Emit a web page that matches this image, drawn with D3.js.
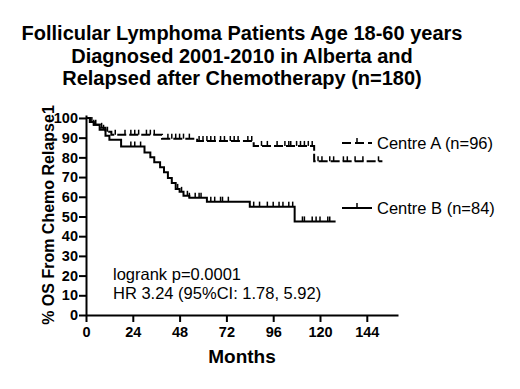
<!DOCTYPE html>
<html><head><meta charset="utf-8">
<script src="https://cdn.jsdelivr.net/npm/d3@7/dist/d3.min.js"></script>
<style>
body{margin:0;background:#fff;}
text{font-family:"Liberation Sans",Arial,sans-serif;fill:#000;}
</style></head>
<body><svg id="c" width="520" height="389"></svg>
<script>
const titleLines = ["Follicular Lymphoma Patients Age 18-60 years","Diagnosed 2001-2010 in Alberta and","Relapsed after Chemotherapy (n=180)"];
const monthTicks = [0,24,48,72,96,120,144];
const pctTicks = [0,10,20,30,40,50,60,70,80,90,100];
const seriesNames = ["Centre A (n=96)","Centre B (n=84)"];
// Centre A step times (months) and survival (%)
const aTimes = [0,2,4,7,10,13,39,57,86,117];
const aSurv  = [100,98,96.5,95,93,91.5,89.5,88.3,85.8,78];
const aEnd = 152;
const aCensor = [3,5,8,11,15,20,23,25,27,31,33,35,42,44,46,48,50,53,58,60,62,64,66,69,71,74,76,78,83,85,90,93,98,102,104,105,108,110,112,114,116,119,121,125,127,132,134,138,142,150];
// Centre B
const bTimes = [0,2,4,7,10,12,18,30,33,35,38,40,42,44,46,48,50,53,62,84,107];
const bSurv  = [100,98,96.5,94,91,89,85.5,82.5,80,77.5,75,72.5,69.5,67,64,62.5,60.5,59.5,57.5,55,47.5];
const bEnd = 128;
const bCensor = [4,9,23,25,28,47,49,52,53,56,58,59,64,66,69,70,73,86,89,93,96,99,101,104,106,111,112,116,118,120,124,125];
const statLines = ["logrank p=0.0001","HR 3.24 (95%CI: 1.78, 5.92)"];

const svg = d3.select("#c");
const x = d3.scaleLinear().domain([0,160]).range([86,398]);
const y = d3.scaleLinear().domain([0,101.5]).range([315,115]);

// title
svg.append("g").selectAll("text").data(titleLines).join("text")
  .attr("x",242).attr("y",(d,i)=>40+i*22.5).attr("text-anchor","middle")
  .style("font-size","20px").style("font-weight","bold").text(d=>d);

// axes
const xAxis = svg.append("g").attr("transform","translate(0,315)")
  .call(d3.axisBottom(x).tickValues(monthTicks).tickSize(7).tickPadding(5).tickSizeOuter(0));
const yAxis = svg.append("g").attr("transform","translate(86,0)")
  .call(d3.axisLeft(y).tickValues(pctTicks).tickSize(7).tickPadding(1).tickSizeOuter(0));
[xAxis,yAxis].forEach(g=>{
  g.selectAll("path,line").attr("stroke","#000").attr("stroke-width",2);
  g.selectAll("text").style("font-size","14.5px").style("font-weight","bold").attr("fill","#000");
});

svg.append("text").attr("x",242).attr("y",363).attr("text-anchor","middle")
  .style("font-size","19px").style("font-weight","bold").text("Months");
svg.append("text").attr("transform","translate(54,215) rotate(-90)").attr("text-anchor","middle")
  .style("font-size","16px").style("font-weight","bold").text("% OS From Chemo Relapse1");

function stepVal(times,surv,t){let v=surv[0];for(let i=0;i<times.length;i++){if(times[i]<=t)v=surv[i];}return v;}
function drawSeries(times,surv,end,censor,dash){
  const pts = times.map((t,i)=>[t,surv[i]]);
  pts.push([end,surv[surv.length-1]]);
  const line = d3.line().x(d=>x(d[0])).y(d=>y(d[1])).curve(d3.curveStepAfter);
  svg.append("path").attr("d",line(pts)).attr("fill","none").attr("stroke","#000")
    .attr("stroke-width",2).attr("stroke-dasharray",dash);
  svg.append("g").selectAll("line").data(censor).join("line")
    .attr("x1",d=>x(d)).attr("x2",d=>x(d))
    .attr("y1",d=>y(stepVal(times,surv,d))).attr("y2",d=>y(stepVal(times,surv,d))-5)
    .attr("stroke","#000").attr("stroke-width",1.5);
}
drawSeries(aTimes,aSurv,aEnd,aCensor,"9,3");
drawSeries(bTimes,bSurv,bEnd,bCensor,null);

// legend
const leg = [{y:143,dash:"9,4"},{y:208,dash:null}];
leg.forEach((l,i)=>{
  svg.append("line").attr("x1",342).attr("x2",372).attr("y1",l.y).attr("y2",l.y)
    .attr("stroke","#000").attr("stroke-width",2).attr("stroke-dasharray",l.dash);
  svg.append("line").attr("x1",357).attr("x2",357).attr("y1",l.y).attr("y2",l.y-5)
    .attr("stroke","#000").attr("stroke-width",1.5);
  svg.append("text").attr("x",377).attr("y",l.y+6).style("font-size","16.5px").text(seriesNames[i]);
});

svg.append("g").selectAll("text").data(statLines).join("text")
  .attr("x",113).attr("y",(d,i)=>280+i*19).style("font-size","16.5px").text(d=>d);
</script></body></html>
